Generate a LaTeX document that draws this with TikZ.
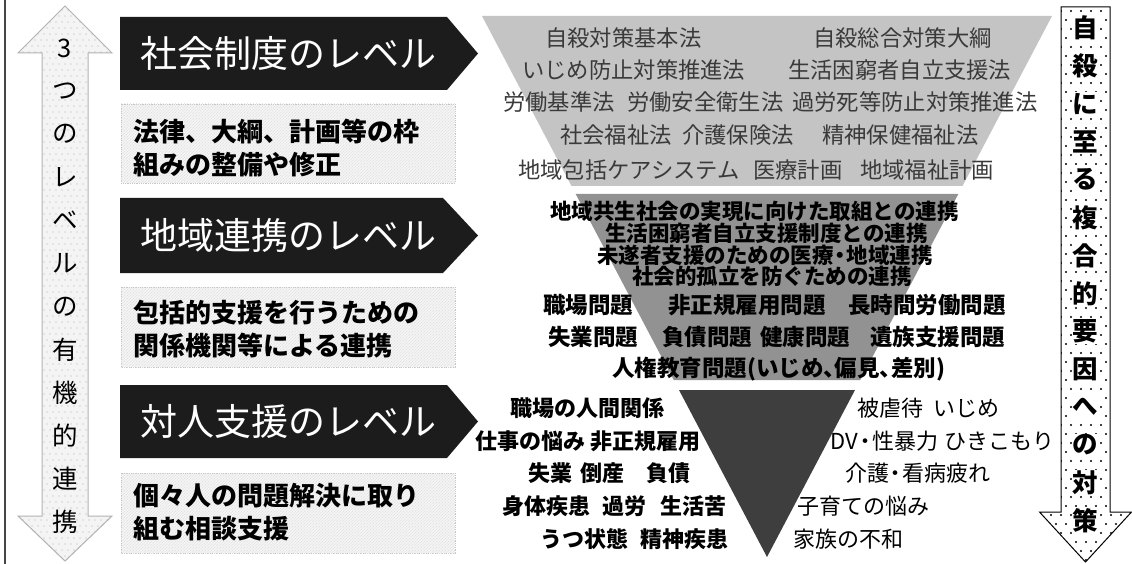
\documentclass[tikz,border=0pt]{standalone}
\usepackage{fontspec}
\newfontfamily\jp{Noto Sans CJK JP}
\usetikzlibrary{patterns}
\definecolor{bannerblack}{HTML}{1C1C1C}
\definecolor{bandlight}{HTML}{C4C4C4}
\definecolor{bandmid}{HTML}{929292}
\definecolor{banddark}{HTML}{3E3E3E}
\definecolor{lighttext}{HTML}{3A3A3A}
\tikzset{
  banner/.style={fill=bannerblack},
  bannertext/.style={text=white, font=\jp\fontsize{37}{37}\selectfont, inner sep=0pt},
  descbox/.style={fill=gray!9, draw=gray!45, densely dotted, line width=0.8pt,
                  postaction={pattern=north east lines, pattern color=gray!28}},
  desctext/.style={font=\jp\bfseries\fontsize{26}{33}\selectfont, align=left, anchor=west, inner sep=0pt},
  lt/.style={font=\jp\fontsize{22.3}{22.3}\selectfont, text=lighttext, anchor=west, inner sep=0pt},
  mt/.style={font=\jp\bfseries\fontsize{21.5}{21.5}\selectfont, anchor=west, inner sep=0pt},
  mtb/.style={font=\jp\bfseries\fontsize{22.5}{22.5}\selectfont, anchor=west, inner sep=0pt},
  dtl/.style={font=\jp\bfseries\fontsize{22}{22}\selectfont, anchor=west, inner sep=0pt},
  dtr/.style={font=\jp\fontsize{22}{22}\selectfont, anchor=west, inner sep=0pt},
  lchar/.style={font=\jp\fontsize{25.5}{25.5}\selectfont, inner sep=0pt},
  rchar/.style={font=\jp\bfseries\fontsize{25.5}{25.5}\selectfont, inner sep=0pt},
}
\begin{document}
\begin{tikzpicture}[x=1pt,y=-1pt]
\useasboundingbox (0,0) rectangle (1132,564);
\fill[white] (0,0) rectangle (1132,564);

% left frame line
\draw[line width=2pt, gray!55!black] (4.5,0) -- (4.5,564);

% left double arrow
\def\leftarrowpath{(65,6) -- (112,53) -- (88,53) -- (88,516) -- (112,516) -- (65,561) -- (18,516) -- (42,516) -- (42,53) -- (18,53) -- cycle}
\begin{scope}
  \clip \leftarrowpath;
  \fill[gray!9] (0,0) rectangle (130,564);
  \foreach \j in {0,...,93} {
    \foreach \i in {0,...,16} {
      \fill[gray!60] ({17+6*\i+3*mod(\j,2)},{4+6*\j}) circle (0.6);
    }
  }
\end{scope}
\draw[gray!60, line width=1pt] \leftarrowpath;
\foreach \c [count=\i from 0] in {3,つ,の,レ,ベ,ル,の,有,機,的,連,携}
  \node[lchar] (la\i) at (65,{48+43.1*\i}) {\c};

% right down arrow
\def\rightarrowpath{(1061,7) -- (1110,7) -- (1110,512) -- (1131.5,512) -- (1085.5,562) -- (1039.5,512) -- (1061,512) -- cycle}
\begin{scope}
  \clip \rightarrowpath;
  \fill[white] (1030,0) rectangle (1132,564);
  \foreach \j in {0,...,62} {
    \foreach \i in {0,...,9} {
      \fill[black] ({1041+10*\i+5*mod(\j,2)},{11+9*\j}) circle (1.05);
    }
  }
\end{scope}
\draw[black, line width=1pt] \rightarrowpath;
\foreach \c [count=\i from 0] in {自,殺,に,至,る,複,合,的,要,因,へ,の,対,策}
  \node[rchar, fill=white, inner sep=1pt] (ra\i) at (1085.5,{28+37.9*\i}) {\c};

% banners
\fill[banner] (120,17) -- (447,17) -- (478,53.5) -- (447,90) -- (120,90) -- cycle;
\node[bannertext] (b1) at (288,53.5) {社会制度のレベル};
\fill[banner] (120,198) -- (443,198) -- (478,235.5) -- (443,273) -- (120,273) -- cycle;
\node[bannertext] (b2) at (288,235.5) {地域連携のレベル};
\fill[banner] (120,385) -- (447,385) -- (478,421.5) -- (447,458) -- (120,458) -- cycle;
\node[bannertext] (b3) at (288,421.5) {対人支援のレベル};

% description boxes
\path[descbox] (121,104) rectangle (455,183);
\node[desctext] (t1) at (133,148) {法律、大綱、計画等の枠\\組みの整備や修正};
\path[descbox] (121,287) rectangle (455,367);
\node[desctext] (t2) at (133,329) {包括的支援を行うための\\関係機関等による連携};
\path[descbox] (121,473) rectangle (455,553);
\node[desctext] (t3) at (133,512) {個々人の問題解決に取り\\組む相談支援};

% funnel bands
\fill[bandlight] (482,16) -- (1052,16) -- (962.5,186) -- (571.5,186) -- cycle;
\fill[bandmid] (575.7,194) -- (958.3,194) -- (860.3,380) -- (673.7,380) -- cycle;
\fill[banddark] (679,390) -- (855,390) -- (767,557) -- cycle;

% light band texts
\node[lt] (l1a) at (545,38) {自殺対策基本法};
\node[lt] (l1b) at (813,38) {自殺総合対策大綱};
\node[lt] (l2a) at (522,70) {いじめ防止対策推進法};
\node[lt] (l2b) at (788,70) {生活困窮者自立支援法};
\node[lt] (l3a) at (503,102) {労働基準法};
\node[lt] (l3b) at (627,102) {労働安全衛生法};
\node[lt] (l3c) at (792,102) {過労死等防止対策推進法};
\node[lt] (l4a) at (560,135) {社会福祉法};
\node[lt] (l4b) at (682,135) {介護保険法};
\node[lt] (l4c) at (822,135) {精神保健福祉法};
\node[lt] (l5a) at (518,170) {地域包括ケアシステム};
\node[lt] (l5b) at (753,170) {医療計画};
\node[lt] (l5c) at (860,170) {地域福祉計画};

% middle band texts
\node[mt] (m1) at (550,211) {地域共生社会の実現に向けた取組との連携};
\node[mt] (m2) at (605,233) {生活困窮者自立支援制度との連携};
\node[mt] (m3) at (597,255) {未遂者支援のための医療\kern-.2em・\kern-.2em 地域連携};
\node[mt] (m4) at (632,276) {社会的孤立を防ぐための連携};
\node[mtb] (m5a) at (543,305) {職場問題};
\node[mtb] (m5b) at (668,305) {非正規雇用問題};
\node[mtb] (m5c) at (848,305) {長時間労働問題};
\node[mtb] (m6a) at (548,337) {失業問題};
\node[mtb] (m6b) at (662,337) {負債問題};
\node[mtb] (m6c) at (760,337) {健康問題};
\node[mtb] (m6d) at (870,337) {遺族支援問題};
\node[mtb] (m7) at (612,369) {人権教育問題(いじめ、\kern-.5em 偏見、\kern-.5em 差別)};

% dark band side texts
\node[dtl] (d1) at (510,408) {職場の人間関係};
\node[dtl] (d2) at (475,441) {仕事の悩み\hspace{5pt}非正規雇用};
\node[dtl] (d3) at (528,473) {失業\hspace{8pt}倒産\hspace{22pt}負債};
\node[dtl] (d4) at (502,506) {身体疾患\hspace{12pt}過労\hspace{14pt}生活苦};
\node[dtl] (d5) at (540,539) {うつ状態\hspace{12pt}精神疾患};
\node[dtr] (r1) at (857,408) {被虐待\hspace{10pt}いじめ};
\node[dtr] (r2) at (830,441) {DV\kern-.15em・\kern-.2em 性暴力\hspace{6pt}ひきこもり};
\node[dtr] (r3) at (845,473) {介護\kern-.2em・\kern-.2em 看病疲れ};
\node[dtr] (r4) at (797,506) {子育ての悩み};
\node[dtr] (r5) at (793,539) {家族の不和};
\end{tikzpicture}
\end{document}
